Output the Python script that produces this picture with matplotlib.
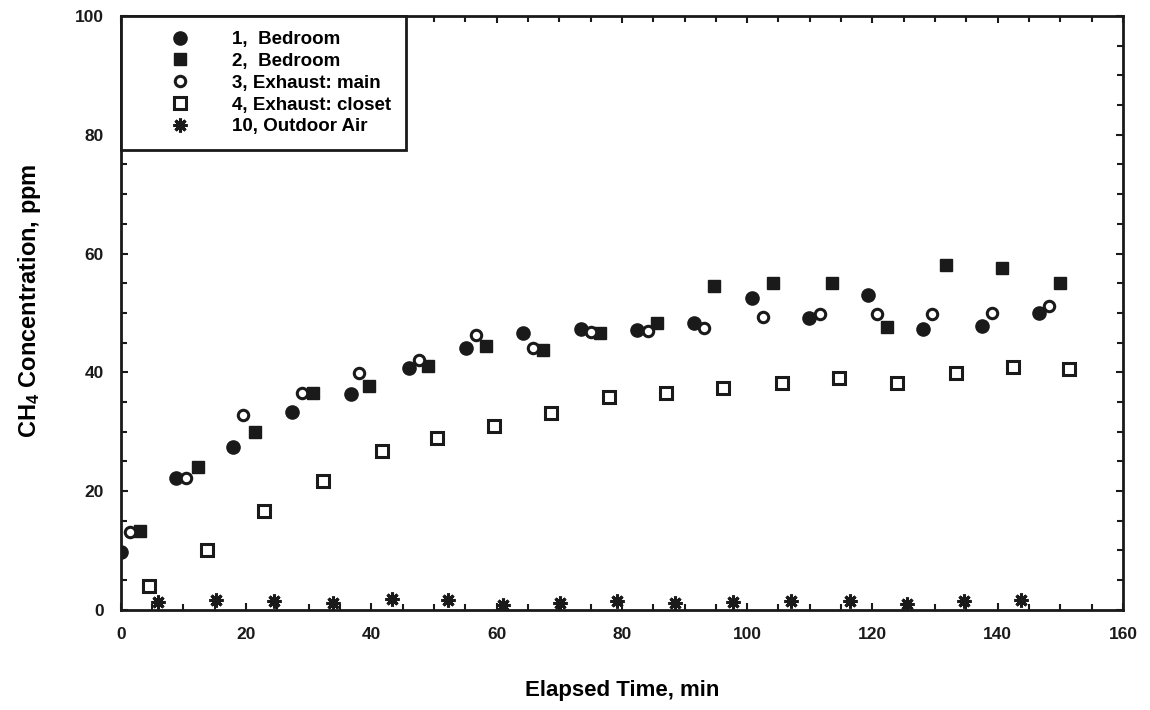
import matplotlib
matplotlib.use("Agg")
import matplotlib.pyplot as plt
from matplotlib.ticker import MultipleLocator

plt.rcParams['font.family'] = ['Liberation Sans', 'DejaVu Sans']
plt.rcParams['font.weight'] = 'bold'
plt.rcParams['mathtext.fontset'] = 'custom'
plt.rcParams['mathtext.rm'] = 'Liberation Sans:bold'
plt.rcParams['mathtext.it'] = 'Liberation Sans:bold'
plt.rcParams['mathtext.bf'] = 'Liberation Sans:bold'

# ---- data ----
bed1_x = [0.0, 8.8, 17.9, 27.3, 36.7, 46.0, 55.1, 64.2, 73.5, 82.4, 91.5, 100.8, 109.9, 119.3, 128.1, 137.5, 146.6]
bed1_y = [9.8, 22.2, 27.4, 33.3, 36.4, 40.7, 44.1, 46.6, 47.3, 47.1, 48.3, 52.5, 49.2, 53.0, 47.3, 47.8, 50.0]

bed2_x = [3.0, 12.3, 21.4, 30.7, 39.6, 49.0, 58.3, 67.4, 76.5, 85.6, 94.7, 104.1, 113.5, 122.3, 131.7, 140.7, 149.9]
bed2_y = [13.3, 24.1, 30.0, 36.5, 37.7, 41.1, 44.4, 43.8, 46.6, 48.3, 54.5, 55.1, 55.1, 47.6, 58.1, 57.6, 55.1]

exh_main_x = [1.4, 10.4, 19.5, 28.9, 38.0, 47.6, 56.7, 65.8, 75.0, 84.2, 93.1, 102.5, 111.6, 120.7, 129.5, 139.1, 148.2]
exh_main_y = [13.1, 22.2, 32.8, 36.5, 39.9, 42.1, 46.3, 44.1, 46.8, 47.0, 47.5, 49.3, 49.8, 49.8, 49.8, 50.0, 51.2]

exh_closet_x = [4.5, 13.7, 22.8, 32.3, 41.7, 50.5, 59.6, 68.7, 77.9, 87.0, 96.1, 105.5, 114.6, 123.9, 133.3, 142.4, 151.4]
exh_closet_y = [4.0, 10.1, 16.7, 21.7, 26.8, 29.0, 31.0, 33.2, 35.9, 36.5, 37.4, 38.2, 39.1, 38.2, 39.9, 40.9, 40.6]

outdoor_x = [5.9, 15.2, 24.4, 33.9, 43.3, 52.2, 61.0, 70.1, 79.2, 88.5, 97.7, 107.0, 116.4, 125.5, 134.6, 143.7]
outdoor_y = [1.3, 1.7, 1.5, 1.2, 1.9, 1.7, 0.9, 1.2, 1.5, 1.2, 1.3, 1.5, 1.5, 1.0, 1.5, 1.7]

labels = ["1,  Bedroom", "2,  Bedroom", "3, Exhaust: main", "4, Exhaust: closet", "10, Outdoor Air"]

x_ticks = [0, 20, 40, 60, 80, 100, 120, 140, 160]
y_ticks = [0, 20, 40, 60, 80, 100]

# ---- figure ----
fig = plt.figure(figsize=(11.5, 7.1), dpi=100)
ax = fig.add_axes([0.105, 0.141, 0.8715, 0.8365])

k = '#1a1a1a'
ax.plot(bed1_x, bed1_y, 'o', ms=9.5, mfc=k, mec=k, ls='none', label=labels[0])
ax.plot(bed2_x, bed2_y, 's', ms=9, mfc=k, mec=k, ls='none', label=labels[1])
ax.plot(exh_main_x, exh_main_y, 'o', ms=7.5, mfc='white', mec=k, mew=2.2, ls='none', label=labels[2])
ax.plot(exh_closet_x, exh_closet_y, 's', ms=8, mfc='white', mec=k, mew=2.2, ls='none', label=labels[3])
ax.plot(outdoor_x, outdoor_y, marker=(8, 2, 0), ms=10, mec=k, mew=2.2, ls='none', label=labels[4])

ax.set_xlim(0, 160)
ax.set_ylim(0, 100)
ax.set_xticks(x_ticks)
ax.set_yticks(y_ticks)
ax.xaxis.set_minor_locator(MultipleLocator(5))
ax.yaxis.set_minor_locator(MultipleLocator(5))
ax.tick_params(which='both', direction='in', top=True, right=True, width=1.5, colors=k)
ax.tick_params(which='major', length=5)
ax.tick_params(which='minor', length=4)
ax.tick_params(axis='x', pad=12, labelsize=12.5)
ax.tick_params(axis='y', pad=12, labelsize=12.5)
for lab in ax.get_xticklabels() + ax.get_yticklabels():
    lab.set_fontweight('bold')
for s in ax.spines.values():
    s.set_linewidth(2)
    s.set_color(k)

ax.set_xlabel("Elapsed Time, min", fontsize=16, fontweight='bold', va='top')
ax.xaxis.set_label_coords(0.5, -0.118)
ax.set_ylabel("CH$_4$ Concentration, ppm", fontsize=17, fontweight='bold')
ax.yaxis.set_label_coords(-0.078, 0.52)

leg = ax.legend(loc='upper left', borderaxespad=0, fancybox=False, framealpha=1,
                edgecolor=k, handlelength=4.7, handletextpad=0.43,
                borderpad=0.8, labelspacing=0.25, prop={'weight': 'bold', 'size': 13.5})
leg.get_frame().set_linewidth(2)

fig.savefig("out.png", dpi=100)
